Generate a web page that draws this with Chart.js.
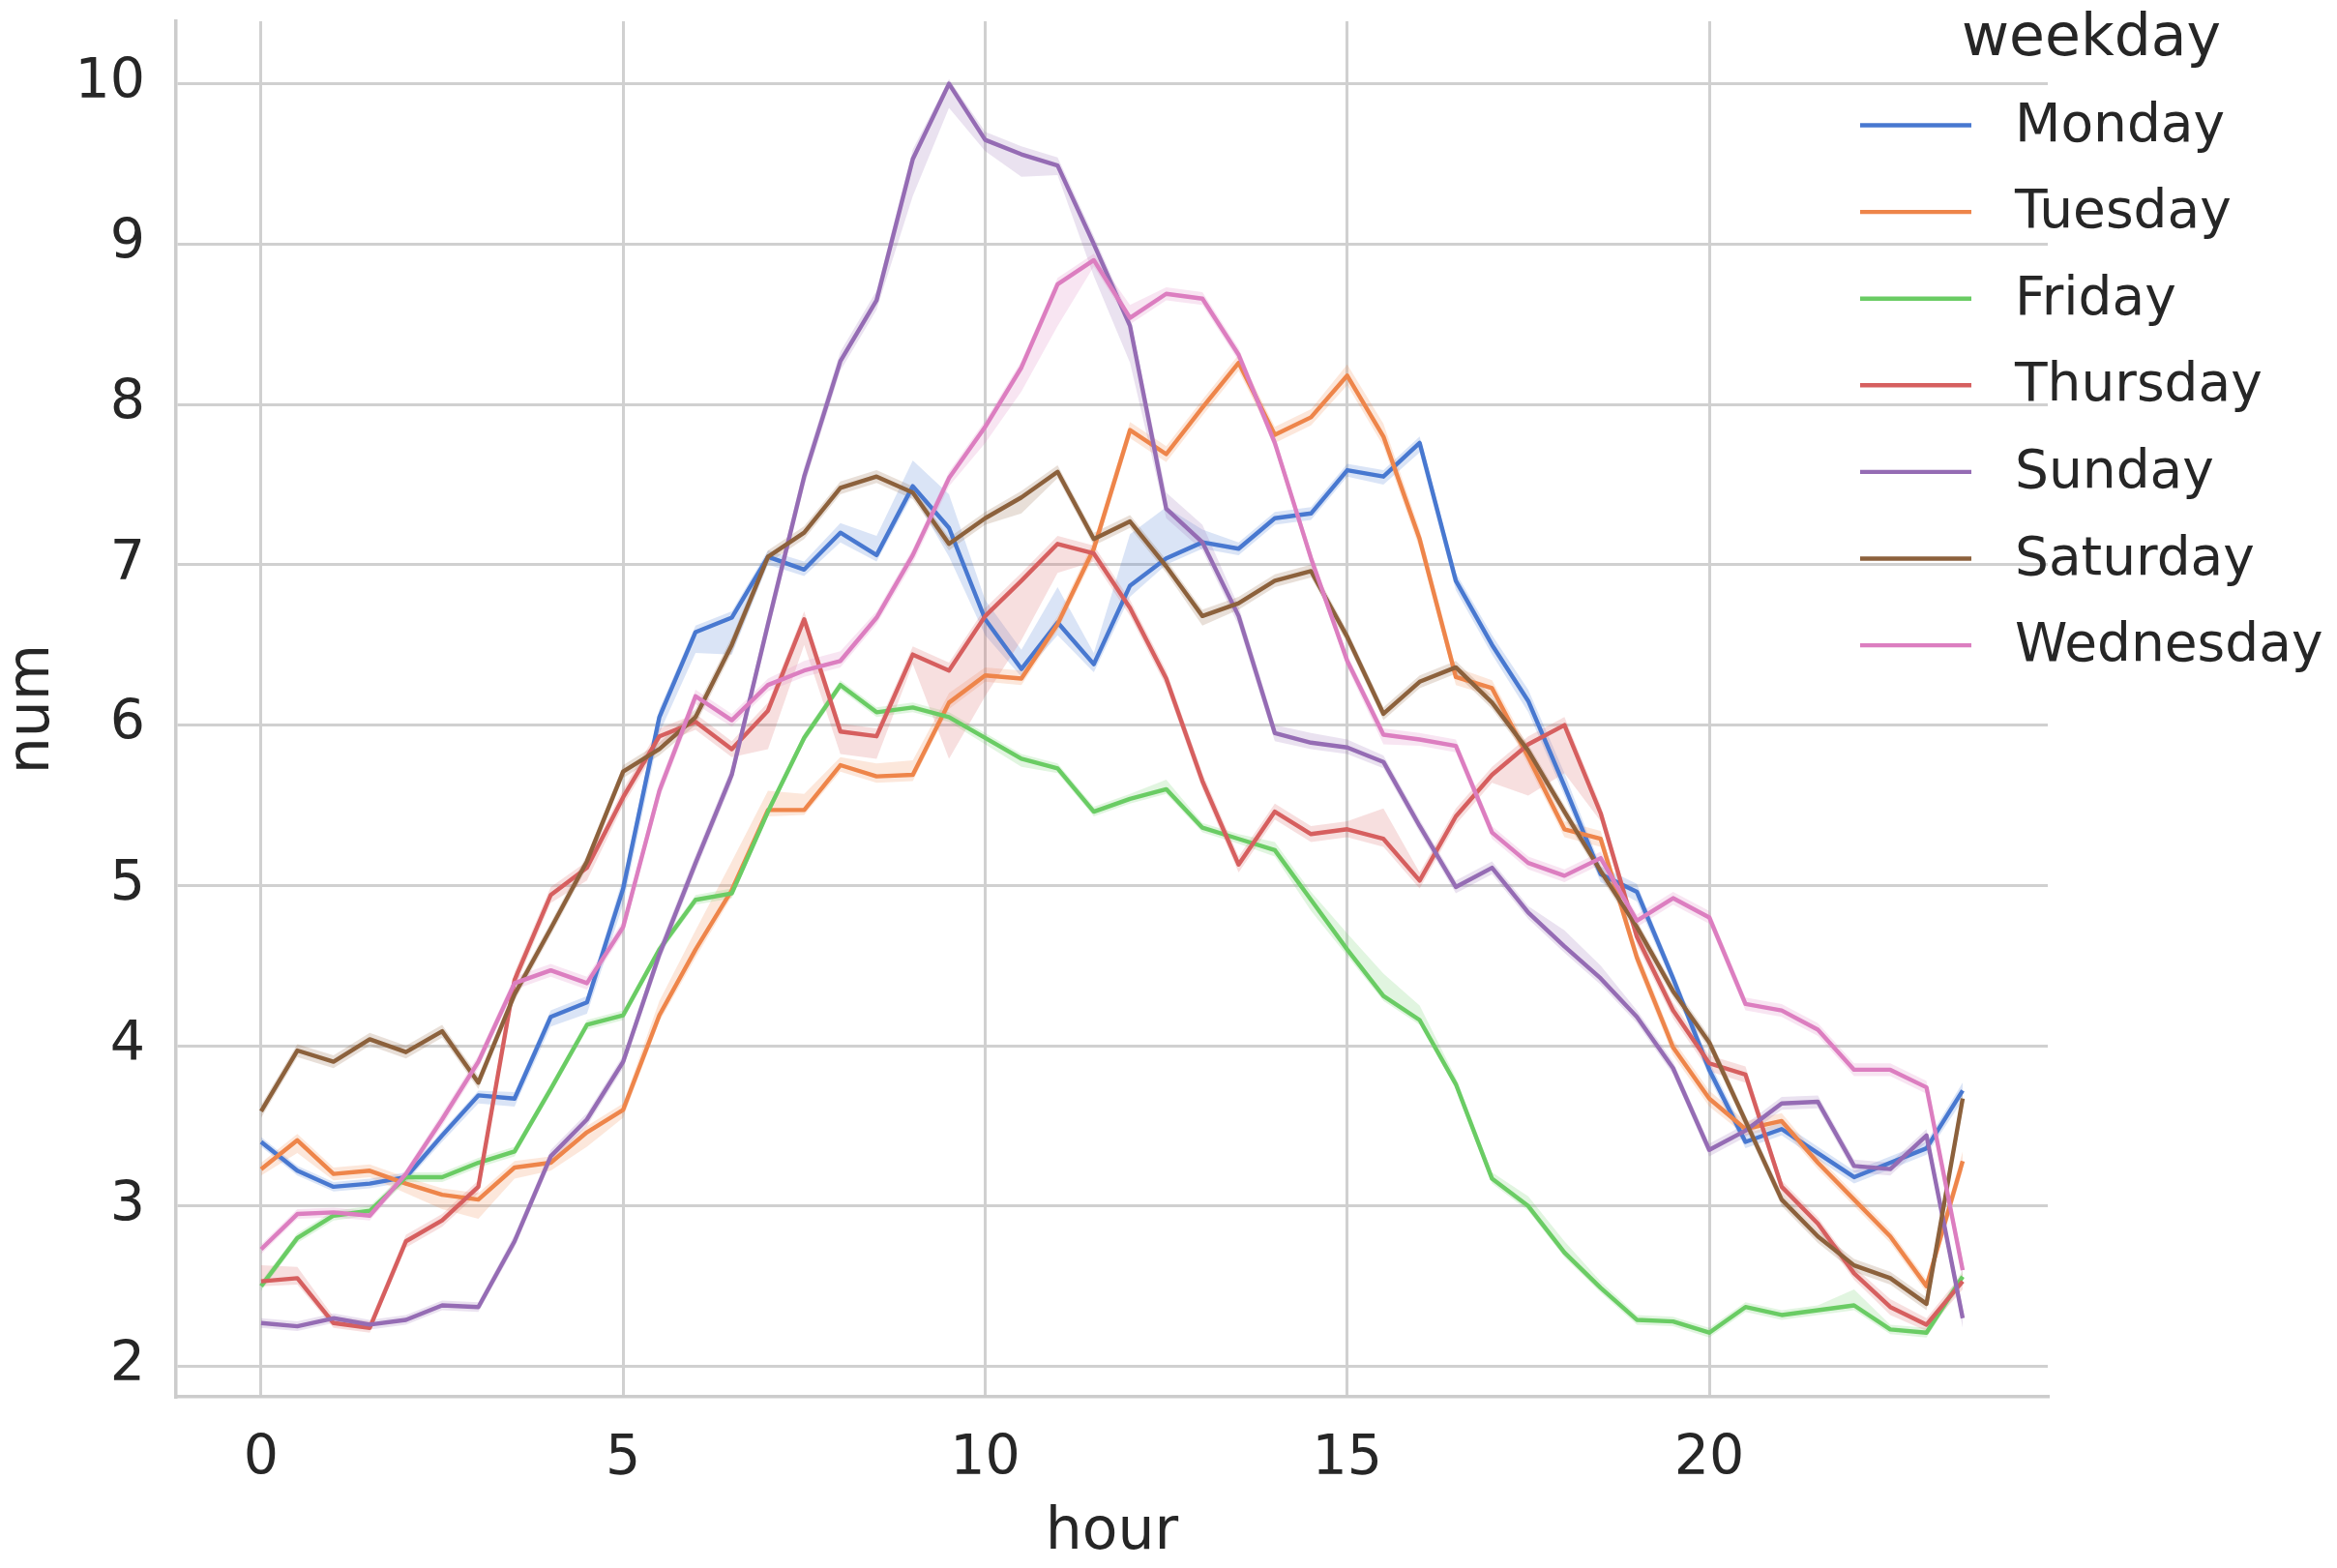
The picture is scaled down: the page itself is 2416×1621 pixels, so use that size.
<!DOCTYPE html>
<html>
<head>
<meta charset="utf-8">
<script src="https://cdn.jsdelivr.net/npm/chart.js@4/dist/chart.umd.min.js"></script>
<style>
html,body{margin:0;padding:0;background:#ffffff;}
canvas{display:block;}
</style>
</head>
<body>
<canvas id="c" width="2416" height="1621"></canvas>
<script>
// ---- data ----
const hours = [0,0.5,1,1.5,2,2.5,3,3.5,4,4.5,5,5.5,6,6.5,7,7.5,8,8.5,9,9.5,10,10.5,11,11.5,
               12,12.5,13,13.5,14,14.5,15,15.5,16,16.5,17,17.5,18,18.5,19,19.5,20,20.5,21,21.5,22,22.5,23,23.5];

// mean lines
const monday    = [3.40,3.22,3.12,3.14,3.18,3.44,3.69,3.67,4.18,4.27,4.98,6.05,6.58,6.67,7.05,6.97,7.20,7.06,7.49,7.23,6.66,6.35,6.64,6.38,
                   6.87,7.04,7.14,7.10,7.29,7.32,7.59,7.55,7.76,6.90,6.50,6.15,5.62,5.07,4.96,4.42,3.85,3.40,3.48,3.33,3.18,3.27,3.36,3.72];
const tuesday   = [3.23,3.41,3.20,3.22,3.14,3.07,3.04,3.24,3.27,3.46,3.60,4.19,4.60,4.97,5.47,5.47,5.75,5.68,5.69,6.14,6.31,6.29,6.63,7.10,
                   7.84,7.69,7.98,8.26,7.81,7.92,8.18,7.80,7.16,6.30,6.23,5.80,5.35,5.29,4.55,3.99,3.67,3.48,3.53,3.27,3.04,2.81,2.50,3.28];
const friday    = [2.50,2.80,2.94,2.97,3.18,3.18,3.27,3.34,3.73,4.13,4.19,4.60,4.91,4.95,5.46,5.92,6.25,6.08,6.11,6.05,5.92,5.79,5.73,5.46,
                   5.54,5.60,5.36,5.29,5.22,4.91,4.60,4.31,4.16,3.76,3.17,3.00,2.71,2.49,2.29,2.28,2.21,2.37,2.32,2.35,2.38,2.23,2.21,2.56];
const thursday  = [2.53,2.55,2.27,2.24,2.78,2.91,3.12,4.41,4.94,5.11,5.55,5.93,6.02,5.85,6.09,6.66,5.96,5.93,6.44,6.34,6.68,6.90,7.13,7.07,
                   6.73,6.29,5.65,5.13,5.46,5.32,5.35,5.29,5.03,5.43,5.69,5.88,6.00,5.45,4.68,4.22,3.89,3.82,3.12,2.89,2.58,2.37,2.26,2.53];
const sunday    = [2.27,2.25,2.30,2.26,2.29,2.38,2.37,2.78,3.31,3.54,3.90,4.57,5.14,5.69,6.63,7.55,8.27,8.65,9.53,10.00,9.65,9.56,9.49,9.00,
                   8.49,7.35,7.14,6.68,5.95,5.89,5.86,5.77,5.37,4.99,5.11,4.83,4.62,4.42,4.18,3.86,3.35,3.47,3.64,3.65,3.25,3.23,3.44,2.30];
const saturday  = [3.59,3.97,3.90,4.04,3.96,4.09,3.77,4.32,4.73,5.15,5.71,5.85,6.05,6.50,7.05,7.20,7.48,7.55,7.45,7.13,7.29,7.42,7.58,7.16,
                   7.27,6.99,6.68,6.76,6.90,6.96,6.55,6.07,6.27,6.36,6.14,5.84,5.46,5.09,4.74,4.34,4.02,3.53,3.04,2.81,2.63,2.55,2.39,3.67];
const wednesday = [2.73,2.95,2.96,2.94,3.20,3.54,3.90,4.39,4.47,4.39,4.74,5.59,6.18,6.03,6.25,6.34,6.40,6.67,7.06,7.54,7.86,8.23,8.75,8.90,
                   8.54,8.69,8.66,8.31,7.76,7.04,6.40,5.94,5.91,5.87,5.33,5.14,5.06,5.17,4.78,4.92,4.80,4.26,4.22,4.10,3.85,3.85,3.74,2.60];

// confidence-band bounds (lower / upper)
const mondayLo    = [3.37,3.19,3.09,3.11,3.15,3.40,3.64,3.62,4.12,4.20,4.88,5.95,6.45,6.44,7.00,6.93,7.14,7.02,7.44,7.05,6.56,6.30,6.56,6.33,
                     6.80,7.00,7.10,7.06,7.25,7.28,7.55,7.50,7.70,6.84,6.44,6.08,5.56,5.02,4.90,4.38,3.80,3.36,3.44,3.29,3.14,3.23,3.32,3.66];
const mondayHi    = [3.43,3.25,3.15,3.17,3.21,3.47,3.72,3.71,4.22,4.31,5.05,6.10,6.62,6.71,7.09,7.02,7.26,7.18,7.65,7.44,6.78,6.47,6.86,6.45,
                     7.19,7.36,7.22,7.14,7.33,7.36,7.63,7.59,7.80,6.95,6.56,6.22,5.70,5.12,5.01,4.46,3.90,3.45,3.52,3.37,3.22,3.31,3.40,3.77];
const tuesdayLo   = [3.19,3.33,3.16,3.18,3.08,2.98,2.92,3.17,3.22,3.37,3.55,4.15,4.55,4.93,5.43,5.44,5.71,5.64,5.65,6.10,6.27,6.25,6.59,7.05,
                     7.79,7.64,7.93,8.21,7.76,7.87,8.12,7.74,7.10,6.25,6.18,5.75,5.30,5.24,4.50,3.94,3.62,3.44,3.49,3.23,3.00,2.77,2.46,3.22];
const tuesdayHi   = [3.27,3.45,3.24,3.26,3.18,3.11,3.08,3.28,3.31,3.50,3.64,4.28,4.72,5.15,5.59,5.57,5.80,5.76,5.78,6.20,6.36,6.34,6.68,7.15,
                     7.89,7.74,8.03,8.31,7.86,7.97,8.25,7.88,7.22,6.36,6.28,5.86,5.40,5.34,4.60,4.04,3.72,3.53,3.58,3.31,3.08,2.85,2.54,3.34];
const fridayLo    = [2.47,2.77,2.91,2.94,3.15,3.15,3.24,3.31,3.70,4.10,4.16,4.57,4.88,4.92,5.43,5.89,6.22,6.05,6.08,6.02,5.88,5.74,5.70,5.43,
                     5.51,5.57,5.33,5.26,5.18,4.84,4.56,4.28,4.13,3.73,3.14,2.97,2.68,2.46,2.26,2.25,2.18,2.34,2.29,2.32,2.35,2.20,2.18,2.52];
const fridayHi    = [2.53,2.83,2.97,3.00,3.21,3.21,3.30,3.37,3.76,4.16,4.22,4.63,4.94,4.98,5.49,5.95,6.28,6.11,6.14,6.08,5.95,5.82,5.76,5.49,
                     5.57,5.66,5.39,5.32,5.27,4.96,4.70,4.45,4.25,3.80,3.21,3.06,2.78,2.53,2.32,2.31,2.24,2.40,2.35,2.38,2.48,2.26,2.24,2.60];
const thursdayLo  = [2.50,2.51,2.24,2.21,2.74,2.87,3.08,4.36,4.89,5.03,5.50,5.88,5.97,5.80,5.85,6.50,5.82,5.79,6.38,5.79,6.18,6.53,6.95,7.02,
                     6.68,6.24,5.60,5.08,5.41,5.27,5.30,5.24,4.98,5.38,5.64,5.56,5.70,5.40,4.63,4.17,3.84,3.77,3.08,2.85,2.54,2.32,2.22,2.48];
const thursdayHi  = [2.63,2.62,2.31,2.28,2.82,2.95,3.16,4.46,4.99,5.15,5.60,5.98,6.07,5.90,6.14,6.71,6.01,5.98,6.49,6.39,6.73,6.95,7.18,7.12,
                     6.78,6.34,5.70,5.18,5.51,5.37,5.40,5.48,5.08,5.48,5.74,5.93,6.05,5.50,4.73,4.27,3.94,3.87,3.16,2.93,2.62,2.42,2.30,2.58];
const sundayLo    = [2.24,2.22,2.27,2.23,2.26,2.35,2.34,2.74,3.27,3.50,3.86,4.52,5.09,5.64,6.57,7.49,8.21,8.59,9.30,9.85,9.58,9.42,9.43,8.80,
                     8.26,7.29,7.09,6.62,5.90,5.85,5.82,5.73,5.33,4.95,5.07,4.79,4.58,4.38,4.14,3.82,3.31,3.43,3.60,3.61,3.21,3.19,3.40,2.24];
const sundayHi    = [2.30,2.28,2.33,2.29,2.32,2.41,2.40,2.82,3.35,3.58,3.94,4.62,5.19,5.74,6.69,7.61,8.33,8.71,9.59,10.03,9.70,9.61,9.54,9.05,
                     8.54,7.45,7.25,6.74,6.00,5.95,5.91,5.81,5.41,5.03,5.15,4.87,4.72,4.50,4.22,3.90,3.39,3.51,3.68,3.69,3.29,3.27,3.48,2.36];
const saturdayLo  = [3.55,3.93,3.86,4.00,3.92,4.05,3.73,4.28,4.69,5.11,5.67,5.81,6.00,6.45,7.01,7.16,7.44,7.51,7.41,7.09,7.25,7.32,7.54,7.12,
                     7.23,6.95,6.62,6.72,6.86,6.92,6.51,6.03,6.23,6.32,6.10,5.80,5.42,5.05,4.70,4.30,3.98,3.49,3.00,2.77,2.59,2.51,2.35,3.61];
const saturdayHi  = [3.63,4.01,3.94,4.08,4.00,4.13,3.81,4.36,4.77,5.19,5.75,5.89,6.10,6.55,7.09,7.24,7.52,7.59,7.49,7.17,7.33,7.46,7.62,7.20,
                     7.31,7.03,6.72,6.80,6.94,7.00,6.59,6.11,6.31,6.40,6.18,5.88,5.50,5.13,4.78,4.38,4.06,3.57,3.08,2.85,2.67,2.59,2.43,3.73];
const wednesdayLo = [2.70,2.92,2.93,2.91,3.17,3.50,3.86,4.35,4.43,4.35,4.70,5.54,6.13,5.99,6.21,6.30,6.36,6.63,7.01,7.49,7.76,8.08,8.49,8.86,
                     8.50,8.65,8.62,8.27,7.72,7.00,6.36,5.88,5.87,5.83,5.29,5.10,5.02,5.13,4.74,4.88,4.76,4.22,4.18,4.06,3.81,3.81,3.70,2.54];
const wednesdayHi = [2.76,2.98,2.99,2.97,3.23,3.58,3.94,4.43,4.51,4.43,4.78,5.64,6.22,6.07,6.29,6.40,6.46,6.71,7.10,7.58,7.90,8.27,8.79,8.94,
                     8.62,8.73,8.70,8.35,7.80,7.08,6.44,5.98,5.95,5.91,5.37,5.18,5.10,5.21,4.82,4.96,4.84,4.30,4.26,4.14,3.89,3.89,3.78,2.66];

const seriesNames  = ['Monday','Tuesday','Friday','Thursday','Sunday','Saturday','Wednesday'];
const seriesValues = [monday, tuesday, friday, thursday, sunday, saturday, wednesday];
const seriesLo     = [mondayLo, tuesdayLo, fridayLo, thursdayLo, sundayLo, saturdayLo, wednesdayLo];
const seriesHi     = [mondayHi, tuesdayHi, fridayHi, thursdayHi, sundayHi, saturdayHi, wednesdayHi];
const seriesColors = ['#4878d0','#ee854a','#6acc64','#d65f5f','#956cb4','#8c613c','#dc7ec0'];

const xTickValues = [0,5,10,15,20];
const yTickValues = [2,3,4,5,6,7,8,9,10];
const xTitle = 'hour';
const yTitle = 'num';
const legendTitle = 'weekday';

// ---- chart ----
const FONT = 'DejaVu Sans';
const TEXT = '#262626';
const LINE_W = 4.4;

function withAlpha(hex, a) {
  const r = parseInt(hex.slice(1,3),16), g = parseInt(hex.slice(3,5),16), b = parseInt(hex.slice(5,7),16);
  return `rgba(${r},${g},${b},${a})`;
}
const toPts = arr => hours.map((h, j) => ({x: h, y: arr[j]}));

const n = seriesNames.length;
const datasets = seriesNames.map((name, i) => ({
  label: name,
  data: toPts(seriesValues[i]),
  borderColor: seriesColors[i],
  backgroundColor: seriesColors[i],
  borderWidth: LINE_W,
  pointRadius: 0,
  tension: 0,
  fill: false,
  borderJoinStyle: 'round',
  borderCapStyle: 'butt',
  order: n - i
}));
seriesNames.forEach((name, i) => {
  const hiIndex = datasets.length;
  datasets.push({
    label: name + ' hi',
    data: toPts(seriesHi[i]),
    borderWidth: 0,
    borderColor: 'rgba(0,0,0,0)',
    pointRadius: 0,
    tension: 0,
    fill: false,
    order: 100 + n - i
  });
  datasets.push({
    label: name + ' lo',
    data: toPts(seriesLo[i]),
    borderWidth: 0,
    borderColor: 'rgba(0,0,0,0)',
    backgroundColor: withAlpha(seriesColors[i], 0.2),
    pointRadius: 0,
    tension: 0,
    fill: hiIndex,
    order: 100 + n - i
  });
});

const sideLegend = {
  id: 'sideLegend',
  afterDraw(chart) {
    const ctx = chart.ctx;
    const right = chart.chartArea.right;
    ctx.save();
    ctx.fillStyle = TEXT;
    ctx.textBaseline = 'alphabetic';
    ctx.font = '60px "' + FONT + '"';
    ctx.textAlign = 'center';
    ctx.fillText(legendTitle, right + 45, 57);
    ctx.font = '55px "' + FONT + '"';
    ctx.textAlign = 'left';
    seriesNames.forEach((name, i) => {
      const y = 129.5 + i * 89.6;
      ctx.strokeStyle = seriesColors[i];
      ctx.lineWidth = LINE_W;
      ctx.lineCap = 'butt';
      ctx.beginPath();
      ctx.moveTo(right - 194, y);
      ctx.lineTo(right - 79, y);
      ctx.stroke();
      ctx.fillText(name, right - 34, y + 16);
    });
    ctx.restore();
  }
};

new Chart(document.getElementById('c'), {
  type: 'line',
  data: { datasets },
  plugins: [sideLegend],
  options: {
    responsive: false,
    animation: false,
    events: [],
    layout: { padding: { top: 22, right: 299, bottom: 0, left: 0 } },
    plugins: {
      legend: { display: false },
      tooltip: { enabled: false },
      title: { display: false },
      filler: { propagate: false }
    },
    scales: {
      x: {
        type: 'linear',
        min: -1.175,
        max: 24.675,
        afterBuildTicks: s => { s.ticks = xTickValues.map(v => ({value: v})); },
        afterFit: s => { s.height = 177; s.paddingLeft = 0; s.paddingRight = 0; },
        ticks: { font: {family: FONT, size: 57, lineHeight: 1}, color: TEXT, padding: 37, maxRotation: 0 },
        grid: { color: '#d0d0d0', lineWidth: 3, drawTicks: false },
        border: { display: true, color: '#cccccc', width: 3.5 },
        title: { display: true, text: xTitle, color: TEXT, font: {family: FONT, size: 60, lineHeight: 1}, padding: {top: 0, bottom: 6} }
      },
      y: {
        type: 'linear',
        min: 1.81,
        max: 10.39,
        afterBuildTicks: s => { s.ticks = yTickValues.map(v => ({value: v})); },
        afterFit: s => { s.width = 182; s.paddingTop = 0; s.paddingBottom = 0; },
        ticks: { font: {family: FONT, size: 57, lineHeight: 1}, color: TEXT, padding: 32 },
        grid: { color: '#d0d0d0', lineWidth: 3, drawTicks: false },
        border: { display: true, color: '#cccccc', width: 3.5 },
        title: { display: true, text: yTitle, color: TEXT, font: {family: FONT, size: 60, lineHeight: 1}, padding: {top: 4, bottom: 0} }
      }
    }
  }
});
</script>
</body>
</html>
